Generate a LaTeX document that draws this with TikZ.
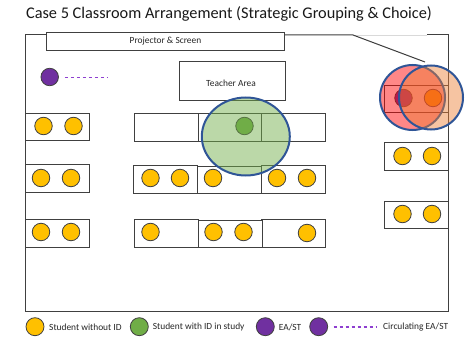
\documentclass[tikz,border=0pt]{standalone}
\usepackage{fontspec}
\setmainfont{Carlito}
\usetikzlibrary{calc}
\definecolor{sgold}{HTML}{FFC000}
\definecolor{sgreen}{HTML}{70AD47}
\definecolor{spurple}{HTML}{7030A0}
\definecolor{sblue}{HTML}{2F5597}
\definecolor{sline}{HTML}{404040}
\definecolor{sdash}{HTML}{8E3FD0}
\definecolor{sorange}{HTML}{ED7D31}
\tikzset{
  x=1pt,y=-1pt,
  desk/.style={draw=sline,line width=1pt,minimum height=27.5pt,minimum width=64pt,inner sep=0pt,fill=white,anchor=north west},
  room/.style={draw=sline,line width=1pt,inner sep=0pt,fill=white,anchor=north west},
  wall/.style={draw=sline,line width=1pt},
  stu/.style={circle,draw=black!75,line width=0.8pt,fill=sgold,minimum size=17.5pt,inner sep=0pt},
  stuid/.style={stu,fill=sgreen},
  ea/.style={stu,fill=spurple},
  lab/.style={inner sep=0pt,font=\fontsize{9.4}{11}\selectfont,text=black!85},
  zone/.style={circle,draw=sblue,line width=2pt,inner sep=0pt,minimum size=64pt},
  circ/.style={draw=sdash,line width=1.1pt,dash pattern=on 3.6pt off 2.4pt}
}
\begin{document}
\begin{tikzpicture}
\useasboundingbox (0,0) rectangle (472,337);
\fill[white] (0,0) rectangle (472,337);
\node[inner sep=0pt,font=\fontsize{16.3}{19}\selectfont,text=black!90] (title) at (229,13.5) {Case 5 Classroom Arrangement (Strategic Grouping \& Choice)};
% walls
\coordinate (w1) at (46,35);
\coordinate (w2) at (25,35);
\coordinate (w3) at (25,311);
\coordinate (w4) at (448,311);
\coordinate (w5) at (448,35);
\coordinate (w5b) at (427,35);
\coordinate (w6) at (353,35);
\coordinate (w7) at (425,62);
\coordinate (w8) at (284,35);
\draw[wall] (w1) -- (w2) -- (w3) -- (w4) -- (w5) -- (w5b);
\draw[draw=black!15,line width=0.8pt] (w5b) -- (w6);
\draw[wall] (w8) -- (w6) -- (w7);
\node[room,minimum width=238pt,minimum height=18pt] (proj) at (46,32) {};
\node[lab] (projl) at (165.5,41) {Projector \& Screen};
\node[room,minimum width=106pt,minimum height=39.5pt] (teach) at (178.5,61) {};
\node[lab] (teachl) at (231,83) {Teacher Area};
% circulating EA
\node[ea] (c1) at (49.7,77) {};
\coordinate (c1e) at (107,77.5);
\draw[circ] ($(c1.east)+(6,0.5)$) -- (c1e);
% desks: left
\node[desk] (d1) at (25,113) {};
\node[desk] (d2) at (25,164.5) {};
\node[desk] (d3) at (25,219.3) {};
% middle row 1
\node[desk] (d4) at (134.3,113.3) {};
\node[desk] (d5) at (198,113.3) {};
\node[desk] (d6) at (261.3,113.3) {};
% row 2
\node[desk] (d7) at (133.3,165) {};
\node[desk] (d9) at (261,165) {};
\node[desk] (d8) at (197,165.8) {};
% row 3
\node[desk] (d10) at (133.5,219.3) {};
\node[desk] (d12) at (261,219.3) {};
\node[desk] (d11) at (197.5,219.5) {};
% right
\node[desk] (d13) at (384,85) {};
\node[desk] (d14) at (384,142.5) {};
\node[desk] (d15) at (384,200.7) {};
% students
\foreach \n/\x/\y in {s1/43.5/126,s2/73.5/126,s3/41/178,s4/71/178,s5/41/232,s6/71/232,
  s7/150.5/178,s8/180/178,s9/213/178,s10/277/178,s11/307/178,
  s12/150.5/232,s13/213.5/232,s14/243.5/232,s15/307/233,
  s16/402.5/156,s17/432/156,s18/402.5/214,s19/432/214}
  \node[stu] (\n) at (\x,\y) {};
\node[stuid] (g1) at (244.5,126) {};
\node[ea] (r1) at (403.5,98) {};
\node[stu] (r2) at (433,98) {};
% zones
\node[inner sep=0pt] (gz) at (245.8,136.5) {};
\fill[sgreen,fill opacity=0.47] (gz) ellipse [x radius=44pt,y radius=39pt];
\draw[sblue,line width=2pt] (gz) ellipse [x radius=44pt,y radius=39pt];
\node[zone,fill=red,fill opacity=0.47,draw opacity=1,minimum size=65pt] (z1) at (412.5,97.5) {};
\node[zone,fill=sorange,fill opacity=0.45,draw opacity=1,minimum size=64pt] (z2) at (431,97.5) {};
% legend
\node[stu,minimum size=18pt] (l1) at (35,326.7) {};
\node[lab,anchor=west] (l1t) at (49,327) {Student without ID};
\node[stuid,minimum size=18pt] (l2) at (139.3,326.7) {};
\node[lab,anchor=west] (l2t) at (152.7,327) {Student with ID in study};
\node[ea,minimum size=18pt] (l3) at (265.3,326.7) {};
\node[lab,anchor=west] (l3t) at (278.7,327) {EA/ST};
\node[ea,minimum size=18pt] (l4) at (318.7,326.7) {};
\coordinate (l4e) at (376,327);
\draw[circ] ($(l4.east)+(5.5,0.3)$) -- (l4e);
\node[lab,anchor=west] (l4t) at (383,327) {Circulating EA/ST};
\end{tikzpicture}
\end{document}
